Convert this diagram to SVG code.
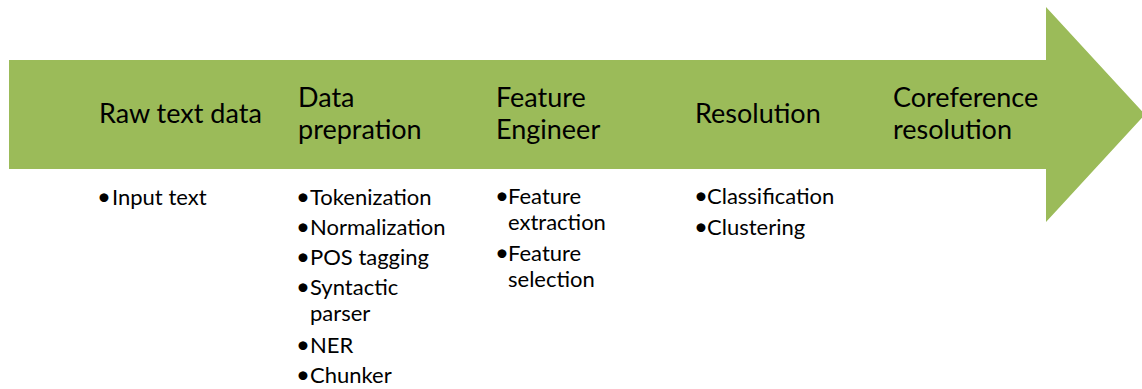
<svg xmlns="http://www.w3.org/2000/svg" width="1142" height="389" viewBox="0 0 1142 389">
<style>
.t{font-family:Lato,"Open Sans",sans-serif;font-size:27px;fill:#000}
.b{font-family:Lato,"Open Sans",sans-serif;font-size:22px;fill:#000}
.d{font-family:Lato,"Open Sans",sans-serif;font-size:24px;fill:#000;text-anchor:middle}
</style>
<rect width="1142" height="389" fill="#fff"/>
<g id="arrow">
<polygon points="9,60 1046,60 1046,7 1145,114.5 1046,222 1046,169 9,169" fill="#9BBB59"/>
</g>
<g id="raw">
<text class="t" x="99" y="123">Raw text data</text>
<text class="d" x="104" y="205">•</text>
<text class="b" x="112" y="205">Input text</text>
</g>
<g id="prep">
<text class="t" x="298" y="107">Data</text>
<text class="t" x="298" y="139">prepration</text>
<text class="d" x="303" y="205">•</text>
<text class="b" x="310" y="205">Tokenization</text>
<text class="d" x="303" y="235">•</text>
<text class="b" x="310" y="235">Normalization</text>
<text class="d" x="303" y="265">•</text>
<text class="b" x="310" y="265">POS tagging</text>
<text class="d" x="303" y="295">•</text>
<text class="b" x="310" y="295">Syntactic</text>
<text class="b" x="310" y="321">parser</text>
<text class="d" x="303" y="353">•</text>
<text class="b" x="310" y="353">NER</text>
<text class="d" x="303" y="383">•</text>
<text class="b" x="310" y="383">Chunker</text>
</g>
<g id="feat">
<text class="t" x="496" y="107">Feature</text>
<text class="t" x="496" y="139">Engineer</text>
<text class="d" x="502" y="204">•</text>
<text class="b" x="508" y="204">Feature</text>
<text class="b" x="508" y="230">extraction</text>
<text class="d" x="502" y="261">•</text>
<text class="b" x="508" y="261">Feature</text>
<text class="b" x="508" y="287">selection</text>
</g>
<g id="res">
<text class="t" x="695" y="123">Resolution</text>
<text class="d" x="701" y="204">•</text>
<text class="b" x="707" y="204">Classification</text>
<text class="d" x="701" y="235">•</text>
<text class="b" x="707" y="235">Clustering</text>
</g>
<g id="coref">
<text class="t" x="893" y="107">Coreference</text>
<text class="t" x="893" y="139">resolution</text>
</g>
<g id="connectors"/>
</svg>
